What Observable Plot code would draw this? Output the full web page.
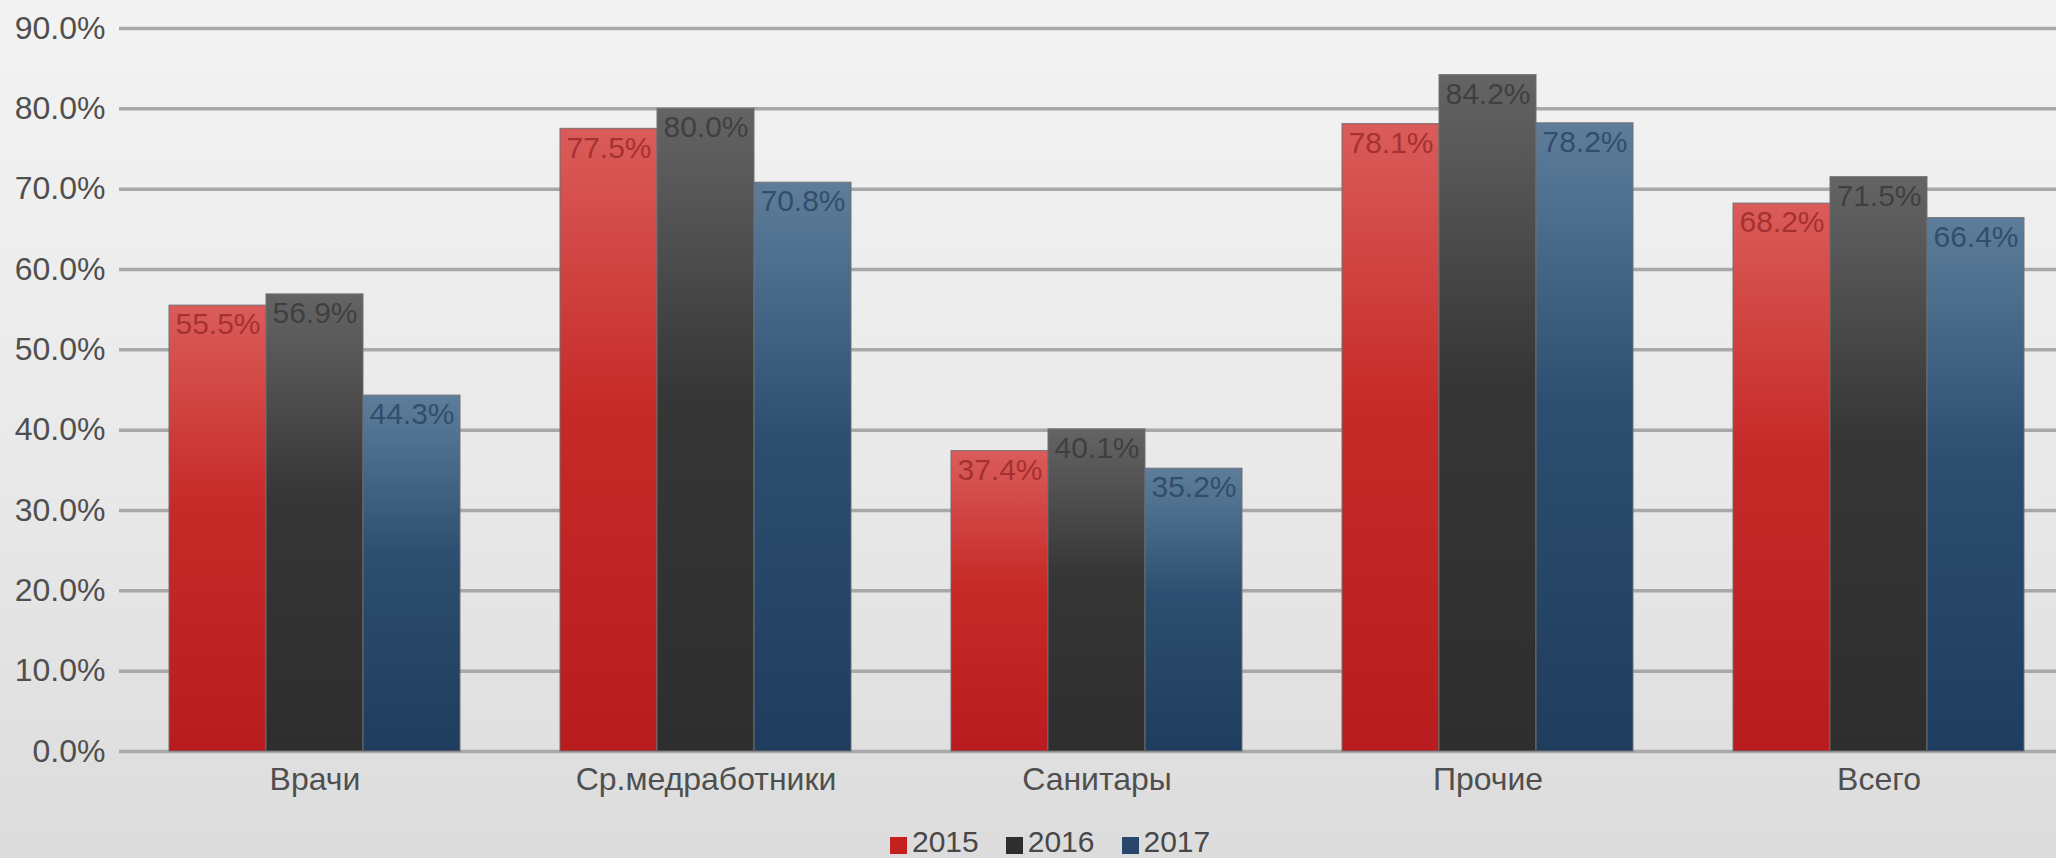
<!DOCTYPE html>
<html>
<head>
<meta charset="utf-8">
<script src="https://cdn.jsdelivr.net/npm/d3@7"></script>
<script src="https://cdn.jsdelivr.net/npm/@observablehq/plot@0.6"></script>
<style>
  html, body { margin: 0; padding: 0; overflow: hidden; }
  body {
    width: 2056px; height: 858px;
    background: linear-gradient(to bottom, #f3f3f3 0%, #e9e9e9 55%, #dcdcdc 100%);
    font-family: "Liberation Sans", Arial, sans-serif;
    position: relative;
  }
  #chart svg { background: transparent !important; }
  #legend {
    position: absolute; left: 890px; top: 827px;
    display: flex; align-items: center;
    font-size: 30px; color: #474747; line-height: 30px;
  }
  #legend .item { display: flex; align-items: center; margin-right: 27px; }
  #legend .sw { width: 17px; height: 17px; margin-right: 5px; margin-top: 6px; }
</style>
</head>
<body>
<div id="chart"></div>
<div id="legend"></div>
<script>
const categories = ["Врачи", "Ср.медработники", "Санитары", "Прочие", "Всего"];
const years = ["2015", "2016", "2017"];
const values2015 = [55.5, 77.5, 37.4, 78.1, 68.2];
const values2016 = [56.9, 80.0, 40.1, 84.2, 71.5];
const values2017 = [44.3, 70.8, 35.2, 78.2, 66.4];
const yTicks = [0, 10, 20, 30, 40, 50, 60, 70, 80, 90];

const gradTop = ["#da5c5a", "#646464", "#5d7d9b"];
const gradMid = ["#c62a28", "#363636", "#2d4e70"];
const gradBottom = ["#b81c1e", "#2e2e2e", "#1f3d5e"];
const swatchColors = ["#c42020", "#2e2e2e", "#28476a"];
const labelColors = ["#9c2a2a", "#3a3a3a", "#2a4662"];

const seriesValues = [values2015, values2016, values2017];
const data = [];
categories.forEach((c, i) => {
  years.forEach((y, j) => {
    data.push({category: c, year: y, value: seriesValues[j][i], yi: j});
  });
});

const chart = Plot.plot({
  width: 2056,
  height: 815,
  marginTop: 28,
  marginBottom: 64,
  marginLeft: 119,
  marginRight: 0,
  style: {fontFamily: "'Liberation Sans', Arial, sans-serif", fontSize: "32px", color: "#4f4f4f", background: "transparent", overflow: "hidden"},
  facet: {data, x: "category"},
  fx: {domain: categories, range: [119, 2074], padding: 0, label: null, tickSize: 0, tickPadding: 16},
  x: {domain: years, paddingInner: 0, paddingOuter: 0.5, axis: null},
  y: {domain: [0, 90], ticks: yTicks, tickFormat: d => d.toFixed(1) + "%", tickSize: 0, tickPadding: 14, label: null},
  color: {domain: years, range: years.map(y => `url(#grad${y})`)},
  marks: [
    Plot.ruleY(yTicks, {y: d => d, stroke: "#a8a8a8", strokeWidth: 3.5}),
    Plot.barY(data, {x: "year", y: "value", fill: "year", stroke: "#6f6f6f", strokeWidth: 1.2, strokeOpacity: 0.8}),
    Plot.text(data, {x: "year", y: "value", text: d => d.value.toFixed(1) + "%", dy: 19, fontSize: 30, fill: d => labelColors[d.yi], fillOpacity: 0.85})
  ]
});

// gradient definitions for bar fills
const svg = d3.select(chart.tagName.toLowerCase() === "svg" ? chart : chart.querySelector("svg"));
const defs = svg.insert("defs", ":first-child");
years.forEach((y, j) => {
  const g = defs.append("linearGradient").attr("id", `grad${y}`).attr("x1", 0).attr("y1", 0).attr("x2", 0).attr("y2", 1);
  g.append("stop").attr("offset", "0%").attr("stop-color", gradTop[j]);
  g.append("stop").attr("offset", "45%").attr("stop-color", gradMid[j]);
  g.append("stop").attr("offset", "100%").attr("stop-color", gradBottom[j]);
});

document.getElementById("chart").appendChild(chart);

const legend = document.getElementById("legend");
years.forEach((y, j) => {
  const item = document.createElement("div");
  item.className = "item";
  const sw = document.createElement("div");
  sw.className = "sw";
  sw.style.background = swatchColors[j];
  const t = document.createElement("span");
  t.textContent = y;
  item.appendChild(sw);
  item.appendChild(t);
  legend.appendChild(item);
});
</script>
</body>
</html>
